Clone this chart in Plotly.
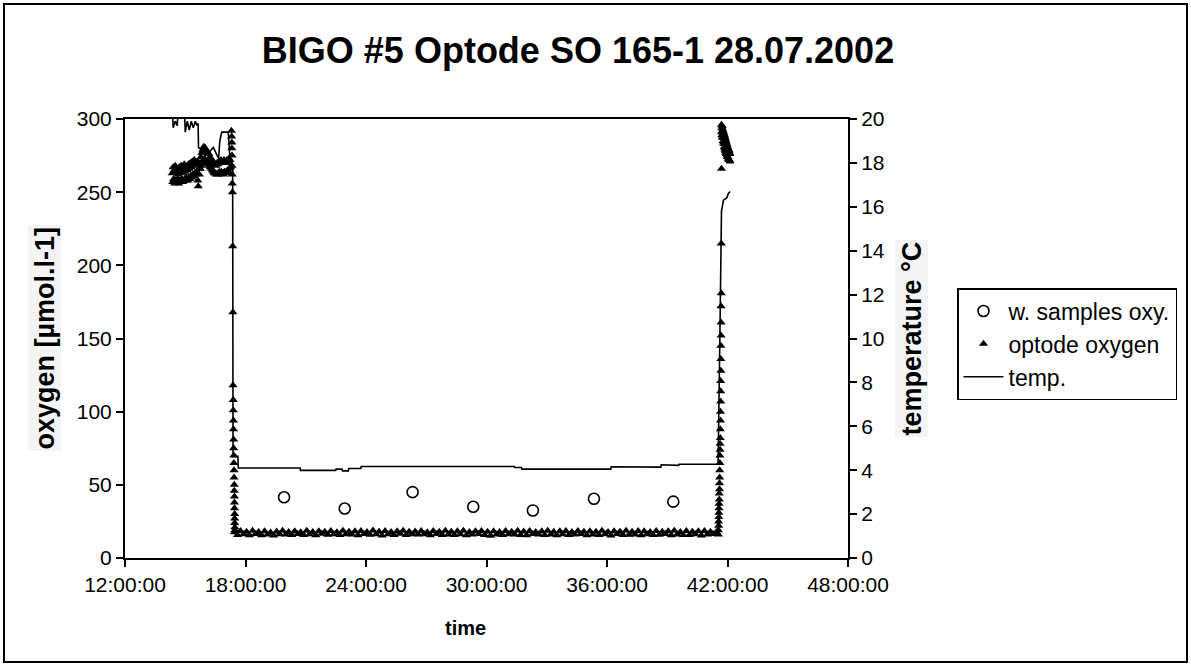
import plotly.graph_objects as go

# ---------------- data (time in hours since start of day 1) ----------------
tick_hours = [12, 18, 24, 30, 36, 42, 48]
tick_labels = ["12:00:00", "18:00:00", "24:00:00", "30:00:00", "36:00:00", "42:00:00", "48:00:00"]

# water samples (oxygen)
sample_time = [19.92, 22.94, 26.32, 29.34, 32.31, 35.35, 39.30]
sample_oxy = [41.5, 33.8, 45.0, 35.0, 32.5, 40.5, 38.5]

# optode oxygen - at surface before deployment (logged every 1.5 min from 14.35 h)
surface_start = 14.35
surface_step = 0.025
surface_oxy = [263, 257, 267, 259, 265, 256, 268, 258, 264, 257, 266, 259, 262, 256, 267, 258, 265,
               257, 268, 259, 263, 257, 266, 258, 269, 259, 264, 258, 267, 260, 265, 258, 269, 260,
               266, 259, 270, 261, 267, 260, 271, 262, 268, 261, 272, 263, 269, 262, 270, 264, 271,
               258, 254, 266, 262, 270, 266, 274, 268, 277, 270, 279, 272, 281, 273, 280, 272, 279,
               271, 278, 270, 277, 269, 276, 268, 274, 267, 273, 266, 272, 265, 271, 264, 270, 263,
               269, 263,
               268, 262, 270, 263, 269, 262, 271, 264, 270, 263, 272, 264, 271, 263, 270, 262, 272,
               264, 271, 263, 270, 264, 272, 265, 271, 264, 273, 266, 272, 267]

# optode oxygen - descent
descent_time = [17.30, 17.31, 17.32, 17.32, 17.33, 17.33, 17.34, 17.34, 17.35, 17.36, 17.37,
                17.38, 17.39, 17.39, 17.40, 17.40, 17.41, 17.41, 17.42, 17.42, 17.43, 17.43,
                17.44, 17.44, 17.45, 17.45, 17.45, 17.46, 17.46, 17.46, 17.47, 17.47]
descent_oxy = [292, 288, 284, 280, 275, 268, 262, 256, 250, 213, 168, 118, 108, 101, 94, 88,
               81, 75, 70, 65, 60, 55, 50, 46, 42, 38, 34, 30, 27, 24, 21, 19]

# optode oxygen - at the sea floor (logged every 9 min from 17.45 h)
bottom_start = 17.45
bottom_step = 0.15
bottom_oxy = [17.6, 15.8, 18.4, 16.2, 17.9, 15.5, 18.6, 16.4, 17.8, 15.6, 18.2, 16.0, 17.5, 15.3, 18.1, 16.3, 18.7, 16.1, 17.7, 15.7,
              18.3, 16.4, 17.6, 15.8, 18.6, 16.2, 17.8, 15.5, 18.3, 16.5, 18.0, 15.9, 18.5, 16.2, 17.6, 15.8, 18.7, 16.3, 17.9, 16.0,
              18.2, 15.6, 18.5, 16.4, 17.7, 15.9, 18.8, 16.2, 18.0, 15.4, 18.4, 16.3, 17.8, 15.8, 18.3, 16.5, 18.6, 15.7, 17.9, 16.2,
              18.1, 16.0, 18.5, 16.3, 17.6, 15.6, 18.4, 16.4, 18.0, 15.8, 18.7, 16.1, 17.9, 15.7, 18.3, 16.3, 18.6, 15.5, 17.8, 16.0,
              18.2, 16.4, 18.5, 15.8, 18.0, 15.2, 18.3, 16.1, 17.7, 15.7, 18.4, 16.3, 17.9, 16.0, 18.7, 15.8, 18.1, 15.6, 18.5, 16.4,
              17.8, 16.0, 18.3, 15.7, 18.6, 16.1, 17.9, 15.5, 18.2, 16.3, 18.4, 15.8, 17.7, 16.0, 18.5, 16.4, 18.0, 15.6, 18.3, 16.1,
              17.9, 15.8, 18.6, 16.3, 17.8, 15.4, 18.3, 16.4, 18.0, 15.7, 18.7, 15.9, 17.9, 16.1, 18.4, 15.5, 18.2, 16.3, 17.7, 15.8,
              18.5, 15.9, 18.0, 16.4, 18.3, 15.6, 18.6, 16.1, 17.8, 15.8, 18.4, 15.7, 17.9, 16.3, 18.2, 15.4, 18.5, 16.0, 18.0, 16.4,
              17.8]

# optode oxygen - ascent
ascent_time = [41.55, 41.55, 41.56, 41.56, 41.57, 41.57, 41.58, 41.58, 41.59, 41.59, 41.60, 41.60,
               41.61, 41.61, 41.62, 41.62, 41.63, 41.63, 41.64, 41.64, 41.65, 41.65, 41.66, 41.66,
               41.66, 41.67, 41.67, 41.67, 41.68, 41.68, 41.68, 41.69, 41.69, 41.70]
ascent_oxy = [16, 19, 22, 25, 28, 31, 34, 37, 40, 44, 47, 51, 55, 60, 65, 70, 74, 78, 82, 88,
              94, 100, 107, 114, 121, 128, 136, 145, 152, 161, 172, 181, 215, 266]

# optode oxygen - back at surface
top_time = [41.70, 41.70, 41.72, 41.72, 41.74, 41.74, 41.76, 41.76, 41.78, 41.78, 41.80, 41.80,
            41.82, 41.82, 41.84, 41.84, 41.86, 41.86, 41.88, 41.88, 41.90, 41.90, 41.92, 41.92,
            41.94, 41.94, 41.96, 41.96, 41.98, 41.98, 42.00, 42.00, 42.02, 42.02, 42.04, 42.04,
            42.06, 42.06, 42.08, 42.08, 42.10, 42.10, 42.12, 42.12]
top_oxy = [296, 291, 294, 289, 295, 288, 293, 287, 292, 285, 291, 284, 290, 283, 289, 281,
           288, 280, 287, 279, 286, 278, 285, 277, 284, 276, 283, 276, 282, 275, 281, 274,
           280, 274, 279, 273, 279, 272, 278, 272, 277, 272, 276, 271]

# temperature
temp_time = [14.35, 14.40, 14.50, 14.60, 14.66, 14.95, 15.00, 15.10, 15.20, 15.30, 15.40, 15.50,
             15.58, 15.64, 15.66, 15.80, 16.00, 16.20, 16.40, 16.60, 16.66, 16.72, 16.82, 17.00,
             17.14, 17.22, 17.36, 17.38, 17.62, 17.64, 20.72, 20.74, 22.49, 22.51, 22.81, 22.83,
             23.12, 23.14, 23.74, 23.76, 31.39, 31.41, 31.74, 31.76, 36.19, 36.21, 36.55, 36.57,
             38.68, 38.70, 39.57, 39.59, 41.53, 41.62, 41.70, 41.80, 41.96, 42.04, 42.13]
temp_val = [20.6, 19.6, 19.9, 19.7, 20.6, 20.6, 19.4, 19.9, 19.5, 19.9, 19.6, 19.9,
            19.7, 19.8, 18.7, 18.6, 18.8, 18.5, 18.7, 18.3, 18.2, 19.0, 19.4, 19.4,
            19.4, 18.3, 17.8, 4.63, 4.63, 4.10, 4.10, 3.99, 3.99, 4.05, 4.05, 3.97,
            3.97, 4.08, 4.08, 4.17, 4.17, 4.12, 4.12, 4.05, 4.05, 4.16, 4.16, 4.14,
            4.14, 4.25, 4.22, 4.27, 4.27, 10.0, 15.8, 16.3, 16.4, 16.6, 16.7]

# ---------------- assemble optode series ----------------
surface_time = [round(surface_start + i * surface_step, 3) for i in range(len(surface_oxy))]
bottom_time = [round(bottom_start + i * bottom_step, 3) for i in range(len(bottom_oxy))]
optode_time = surface_time + descent_time + bottom_time + ascent_time + top_time
optode_oxy = surface_oxy + descent_oxy + bottom_oxy + ascent_oxy + top_oxy

FONT = "Arial, 'Liberation Sans', sans-serif"

fig = go.Figure()
fig.add_trace(go.Scatter(
    x=sample_time, y=sample_oxy, name="w. samples oxy.", mode="markers",
    marker=dict(symbol="circle-open", size=11, color="black", line=dict(width=1.6, color="black")),
))
fig.add_trace(go.Scatter(
    x=optode_time, y=optode_oxy, name="optode oxygen", mode="markers",
    marker=dict(symbol="triangle-up", size=8, color="black"),
))
fig.add_trace(go.Scatter(
    x=temp_time, y=temp_val, name="temp.", mode="lines", yaxis="y2",
    line=dict(color="black", width=1.6),
))

axis_common = dict(
    showgrid=False, zeroline=False, showline=True, linecolor="black", linewidth=2,
    ticks="outside", ticklen=7, tickwidth=2, tickcolor="black",
    tickfont=dict(family=FONT, size=21, color="black"),
)

fig.update_layout(
    width=1191, height=666,
    margin=dict(l=125, r=343, t=119, b=108),
    paper_bgcolor="white", plot_bgcolor="white",
    font=dict(family=FONT, color="black"),
    title=dict(text="<b>BIGO #5 Optode SO 165-1 28.07.2002</b>",
               x=578 / 1191, xanchor="center", y=1 - 50 / 666, yanchor="middle",
               font=dict(family=FONT, size=36, color="black")),
    xaxis=dict(range=[12, 48], tickmode="array", tickvals=tick_hours, ticktext=tick_labels,
               mirror=True, **axis_common),
    yaxis=dict(range=[0, 300], tickmode="linear", tick0=0, dtick=50, **axis_common),
    yaxis2=dict(range=[0, 20], tickmode="linear", tick0=0, dtick=2, overlaying="y", side="right",
                **axis_common),
    showlegend=True,
    legend=dict(x=(957 - 125) / 723, y=(558 - 288) / 439, xanchor="left", yanchor="top",
                bordercolor="black", borderwidth=1.5, bgcolor="white",
                font=dict(family=FONT, size=23, color="black"),
                itemwidth=40, tracegroupgap=0),
    annotations=[
        dict(text="<b>oxygen [µmol.l-1]</b>", xref="paper", yref="paper",
             x=(44 - 125) / 723, y=0.5, xanchor="center", yanchor="middle",
             textangle=-90, showarrow=False, bgcolor="#f4f4f4",
             font=dict(family=FONT, size=27, color="black")),
        dict(text="<b>temperature °C</b>", xref="paper", yref="paper",
             x=(911 - 125) / 723, y=0.5, xanchor="center", yanchor="middle",
             textangle=-90, showarrow=False, bgcolor="#f4f4f4",
             font=dict(family=FONT, size=27, color="black")),
        dict(text="<b>time</b>", xref="paper", yref="paper",
             x=(465 - 125) / 723, y=(558 - 628) / 439, xanchor="center", yanchor="middle",
             showarrow=False, font=dict(family=FONT, size=20, color="black")),
    ],
    shapes=[
        dict(type="rect", xref="paper", yref="paper",
             x0=(4 - 125) / 723, x1=(1187 - 125) / 723,
             y0=(558 - 662) / 439, y1=(558 - 4) / 439,
             line=dict(color="black", width=2), fillcolor="rgba(0,0,0,0)", layer="below"),
    ],
)

fig.write_html("out.html", config={"displayModeBar": False},
               post_script="document.body.style.margin='0px';")
